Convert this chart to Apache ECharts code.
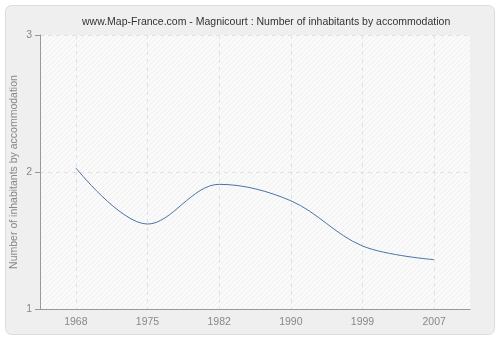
<!DOCTYPE html>
<html><head><meta charset="utf-8">
<script src="https://cdn.jsdelivr.net/npm/echarts@6/dist/echarts.min.js"></script>
<style>html,body{margin:0;padding:0;background:#fff}#c{width:500px;height:340px}</style>
</head><body><div id="c"></div>
<script>
const years = ['1968','1975','1982','1990','1999','2007'];
const values = [2.03, 1.62, 1.91, 1.79, 1.46, 1.36];
const yTicks = [1, 2, 3];

function hatch(){
  const c=document.createElement('canvas');c.width=5;c.height=5;
  const g=c.getContext('2d');g.fillStyle='#fafafa';g.fillRect(0,0,5,5);
  g.strokeStyle='#efefef';g.lineWidth=1;
  g.beginPath();g.moveTo(0,5);g.lineTo(5,0);g.moveTo(-2.5,2.5);g.lineTo(2.5,-2.5);g.moveTo(2.5,7.5);g.lineTo(7.5,2.5);g.stroke();
  return c;
}
const chart = echarts.init(document.getElementById('c'));
const font = 'Liberation Sans';
chart.setOption({
  backgroundColor:'#fff',
  graphic:[{type:'rect',shape:{x:5.5,y:5.5,width:489,height:329,r:6},style:{fill:'#efefef',stroke:'#dcdcdc',lineWidth:1},z:-10}],
  title:{text:'www.Map-France.com - Magnicourt : Number of inhabitants by accommodation',left:77,top:12,
    textStyle:{fontSize:10.5,fontWeight:'normal',color:'#333',fontFamily:font}},
  grid:{left:40,right:30,top:35,bottom:31,outerBoundsMode:'none',containLabel:false,show:true,backgroundColor:{image:hatch(),repeat:'repeat'},borderWidth:0},
  xAxis:{type:'category',data:years,boundaryGap:true,
    axisLine:{lineStyle:{color:'#999'}},axisTick:{alignWithLabel:true,length:5,lineStyle:{color:'#999'}},
    axisLabel:{color:'#888',fontSize:10.5,fontFamily:font,margin:8},
    splitLine:{show:true,alignWithLabel:true,lineStyle:{color:'#e2e2e2',type:[4,4]}}},
  yAxis:{type:'value',min:yTicks[0],max:yTicks[yTicks.length-1],interval:1,
    name:'Number of inhabitants by accommodation',nameLocation:'middle',nameGap:26,nameMoveOverlap:false,
    nameTextStyle:{color:'#888',fontSize:10.5,fontFamily:font,verticalAlign:'middle'},
    axisLine:{show:true,lineStyle:{color:'#999'}},axisTick:{show:true,length:5,lineStyle:{color:'#999'}},
    axisLabel:{color:'#888',fontSize:10.5,fontFamily:font,margin:8},
    splitLine:{show:true,lineStyle:{color:'#e2e2e2',type:[4,4]}}},
  series:[{type:'line',data:values,smooth:0.35,symbol:'none',lineStyle:{color:'#4a74a6',width:1}}]
});
</script></body></html>
